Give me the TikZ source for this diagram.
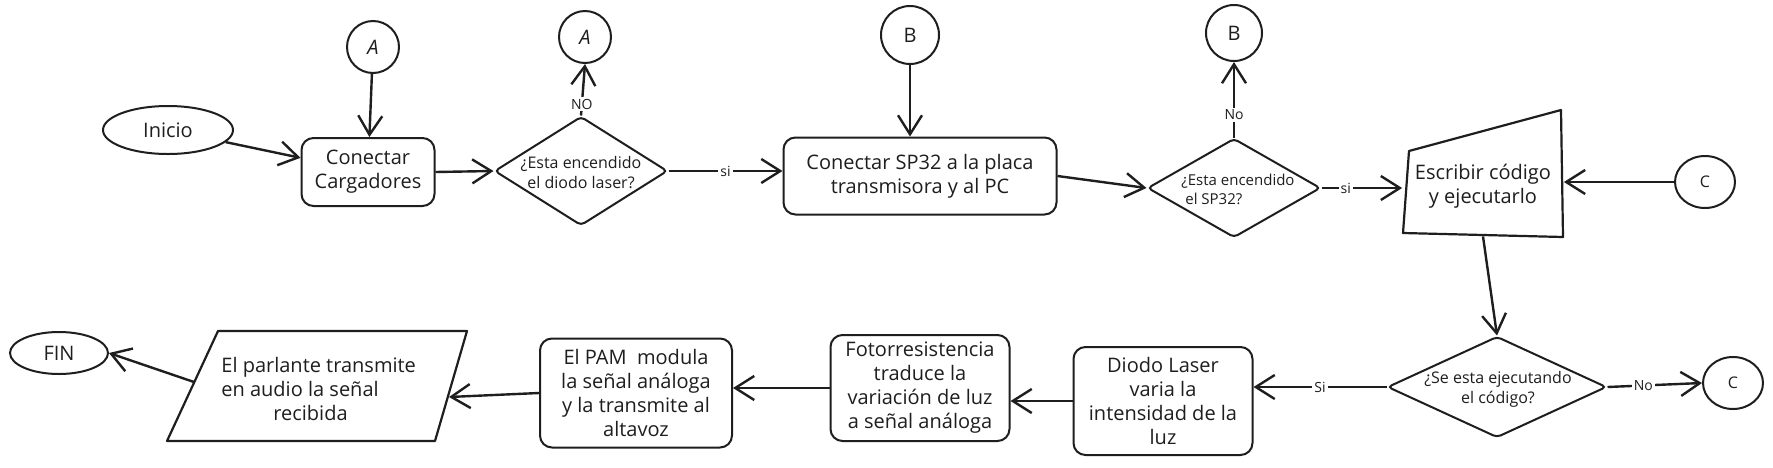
\documentclass[tikz,border=0pt]{standalone}
\usepackage{fontspec}
\setmainfont{Open Sans}
\usetikzlibrary{shapes.geometric,arrows.meta}
\definecolor{ink}{HTML}{1E1E1E}
\begin{document}
\begin{tikzpicture}[x=0.5pt,y=-0.5pt,
 every node/.style={font=\fontsize{10}{12}\selectfont, text=ink},
 proc/.style={draw=ink, line width=1pt, rounded corners=6pt, align=center, inner sep=2pt},
 dia/.style={draw=ink, line width=1pt, diamond, inner sep=0pt, rounded corners=2pt},
 dtext/.style={font=\fontsize{8}{10}\selectfont, align=center, inner sep=0pt},
 conn/.style={draw=ink, line width=1pt, circle, inner sep=0pt},
 term/.style={draw=ink, line width=1pt, ellipse, inner sep=0pt},
 shapeline/.style={draw=ink, line width=1.1pt, line join=round},
 arr/.style={draw=ink, line width=1.2pt, -{Straight Barb[length=9.5pt,width=12pt,line width=1.2pt]}},
 lbl/.style={fill=white, inner sep=1pt, font=\fontsize{7}{8}\selectfont},
]
\useasboundingbox[fill=white] (0,0) rectangle (1773,467);

% top row
\node[term, minimum width=65pt, minimum height=24pt] (ini) at (168,130) {Inicio};
\node[conn, minimum size=26pt] (a1) at (373,47) {\itshape A};
\node[proc, minimum width=66.5pt, minimum height=34pt] (con) at (368,172) {Conectar\\Cargadores};
\node[dia, minimum width=86.5pt, minimum height=54.5pt] (d1) at (581,171) {};
\node[dtext] (d1t) at (581,173) {¿Esta encendido\\el diodo laser?};
\node[conn, minimum size=26pt] (a2) at (585,37) {\itshape A};
\node[proc, minimum width=136.5pt, minimum height=38.5pt] (sp) at (920,176) {Conectar SP32 a la placa\\transmisora y al PC};
\node[conn, minimum size=29pt] (b1) at (910,35) {B};
\node[dia, minimum width=86.5pt, minimum height=49.5pt] (d2) at (1234,188) {};
\node[dtext, align=left, font=\fontsize{7.5}{9.5}\selectfont] (d2t) at (1238,189) {¿Esta encendido\\\ el SP32?};
\node[conn, minimum size=28pt] (b2) at (1234,33) {B};
\node[inner sep=0pt, align=center, minimum width=80.5pt, minimum height=50pt] (esc) at (1483,186) {Escribir código\\y ejecutarlo};
\draw[shapeline] (1403,233) -- (1409,151) -- (1561,110) -- (1563,237) -- cycle;
\node[conn, ellipse, minimum width=30pt, minimum height=26pt] (c1) at (1705,182) {\fontsize{8}{9}\selectfont C};

% decision
\node[dia, minimum width=109.5pt, minimum height=50.5pt] (d3) at (1497,387) {};
\node[dtext] (d3t) at (1498,389) {¿Se esta ejecutando\\el código?};
\node[conn, ellipse, minimum width=30pt, minimum height=26pt] (c2) at (1733,383) {\fontsize{8}{9}\selectfont C};

% bottom row
\node[proc, minimum width=89.5pt, minimum height=54pt] (dio) at (1163,401) {Diodo Laser\\varia la\\intensidad de la\\luz};
\node[proc, minimum width=89.5pt, minimum height=53pt] (foto) at (920,388) {Fotorresistencia\\traduce la\\variación de luz\\a señal análoga};
\node[proc, minimum width=96pt, minimum height=54.5pt] (pam) at (636,393) {El PAM\ \ modula\\la señal análoga\\y la transmite al\\altavoz};
\draw[shapeline] (167,441) -- (218,331) -- (467,331) -- (435,441) -- cycle;
\node[anchor=west, align=left, inner sep=0pt] (par) at (221,389) {El parlante transmite\\en audio la señal\\\hspace{2.6em}recibida};
\coordinate (parR) at (449,397);
\coordinate (parL) at (194,382);
\node[term, minimum width=49pt, minimum height=21pt] (fin) at (59,353) {FIN};

% connectors
\draw[arr] (ini) -- (con);
\draw[arr] (a1) -- (con);
\draw[arr] (con.east) -- (d1.west);
\draw[arr] (d1.north) -- node[lbl, pos=0.22]{NO} (a2.south);
\draw[arr] (d1.east) -- node[lbl]{si} (d1.east -| sp.west);
\draw[arr] (b1.south) -- (b1.south |- sp.north);
\draw[arr] (sp.east) -- (d2.west);
\draw[arr] (d2.north) -- node[lbl, pos=0.3]{No} (b2.south);
\draw[arr] (d2.east) -- node[lbl, pos=0.3]{si} (d2.east -| esc.west);
\draw[arr] (c1.west) -- (c1.west -| esc.east);
\draw[arr] (esc.south) -- (d3.north);
\draw[arr] (d3.east) -- node[lbl, pos=0.38]{No} (c2.west);
\draw[arr] (d3.west) -- node[lbl]{Si} (d3.west -| dio.east);
\draw[arr] (dio.west) -- (dio.west -| foto.east);
\draw[arr] (foto.west) -- (foto.west -| pam.east);
\draw[arr] (pam.west) -- (parR);
\draw[arr] (parL) -- (fin.east);
\end{tikzpicture}
\end{document}
